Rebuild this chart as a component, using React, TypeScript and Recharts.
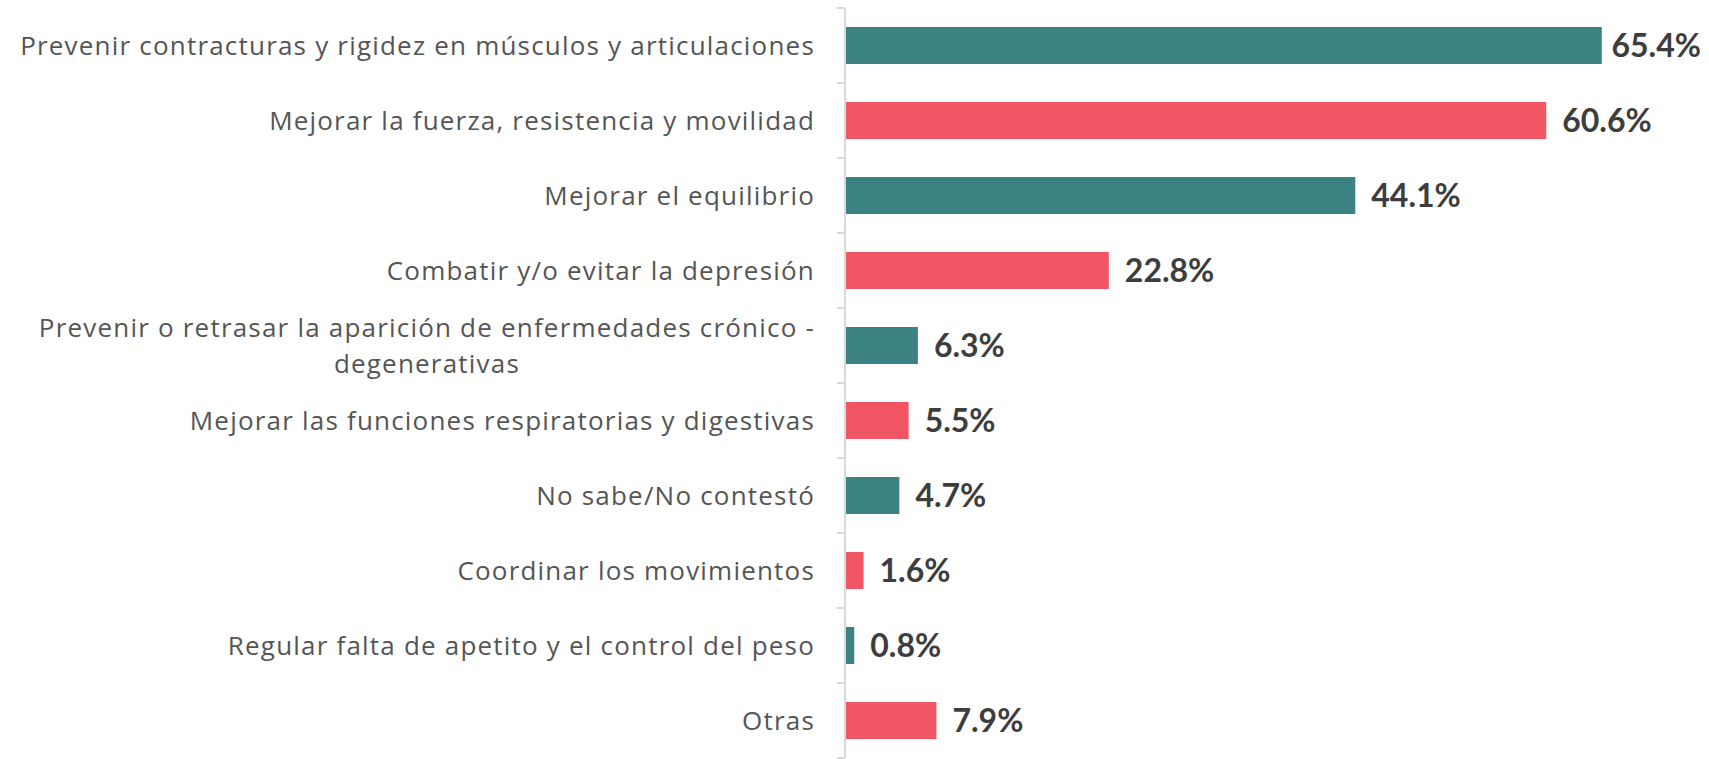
import { Bar, BarChart, Cell, LabelList, XAxis, YAxis } from 'recharts';

const categories = [
	'Prevenir contracturas y rigidez en músculos y articulaciones',
	'Mejorar la fuerza, resistencia y movilidad',
	'Mejorar el equilibrio',
	'Combatir y/o evitar la depresión',
	'Prevenir o retrasar la aparición de enfermedades crónico - degenerativas',
	'Mejorar las funciones respiratorias y digestivas',
	'No sabe/No contestó',
	'Coordinar los movimientos',
	'Regular falta de apetito y el control del peso',
	'Otras',
];

const values = [65.4, 60.6, 44.1, 22.8, 6.3, 5.5, 4.7, 1.6, 0.8, 7.9];

const palette = ['#3c8282', '#f15664'];

const CHART_W = 1709;
const CHART_H = 759;
const MARGIN = { top: 8, right: 54, bottom: 1, left: 0 };
const BAND = (CHART_H - MARGIN.top - MARGIN.bottom) / categories.length;
const LABEL_FONT = '26px "Open Sans"';
const VALUE_FONT = 'bold 32px Lato';
const LETTER_SP = 1.2;
const MAX_LABEL_W = 820;

const data = categories.map((name, i) => ({ name, value: values[i] }));

let ctx: CanvasRenderingContext2D | null = null;
function measure(text: string, font = LABEL_FONT, sp = LETTER_SP) {
	if (!ctx) {
		ctx = document.createElement('canvas').getContext('2d');
	}
	if (!ctx) return text.length * 14;
	ctx.font = font;
	return ctx.measureText(text).width + text.length * sp;
}

function wrap(text: string) {
	const words = text.split(' ');
	const lines: string[] = [];
	let cur = '';
	for (const w of words) {
		const next = cur ? cur + ' ' + w : w;
		if (cur && measure(next) > MAX_LABEL_W) {
			lines.push(cur);
			cur = w;
		} else {
			cur = next;
		}
	}
	if (cur) lines.push(cur);
	return lines;
}

function CategoryTick(props: any) {
	const { x, y, payload, index } = props;
	const lines = wrap(payload.value);
	const axisX = x + 30;
	const blockW = Math.max(...lines.map(l => measure(l)));
	const lineH = 36;
	return (
		<g>
			<line x1={axisX - 8} x2={axisX} y1={y - BAND / 2} y2={y - BAND / 2} stroke='#d9d9d9' strokeWidth={2} />
			{index === categories.length - 1 && (
				<line x1={axisX - 8} x2={axisX} y1={y + BAND / 2} y2={y + BAND / 2} stroke='#d9d9d9' strokeWidth={2} />
			)}
			{lines.map((ln, i) => (
				<text
					key={i}
					x={lines.length > 1 ? x - blockW / 2 : x}
					y={y + (i - (lines.length - 1) / 2) * lineH}
					dy='0.35em'
					textAnchor={lines.length > 1 ? 'middle' : 'end'}
					fill='#555555'
					style={{ font: LABEL_FONT, letterSpacing: LETTER_SP }}
				>
					{ln}
				</text>
			))}
		</g>
	);
}

function ValueLabel(props: any) {
	const { x, y, width, height, value } = props;
	const text = `${value}%`;
	const w = measure(text, VALUE_FONT, 0);
	const lx = Math.min(x + width + 16, CHART_W - 8 - w);
	return (
		<text x={lx} y={y + height / 2} dy='0.36em' fill='#3d3d3d' style={{ font: VALUE_FONT }}>
			{text}
		</text>
	);
}

export default function App() {
	return (
		<div style={{ position: 'absolute', left: 0, top: 0, background: '#ffffff' }}>
			<BarChart
				width={CHART_W}
				height={CHART_H}
				data={data}
				layout='vertical'
				margin={MARGIN}
				barCategoryGap='25%'
			>
				<XAxis type='number' domain={[0, 70]} hide />
				<YAxis
					type='category'
					dataKey='name'
					width={845}
					axisLine={{ stroke: '#d9d9d9', strokeWidth: 2 }}
					tickLine={false}
					tickSize={8}
					tickMargin={22}
					interval={0}
					tick={<CategoryTick />}
				/>
				<Bar dataKey='value' isAnimationActive={false} barSize={37}>
					{data.map((_, i) => (
						<Cell key={i} fill={palette[i % 2]} />
					))}
					<LabelList dataKey='value' content={<ValueLabel />} />
				</Bar>
			</BarChart>
		</div>
	);
}
